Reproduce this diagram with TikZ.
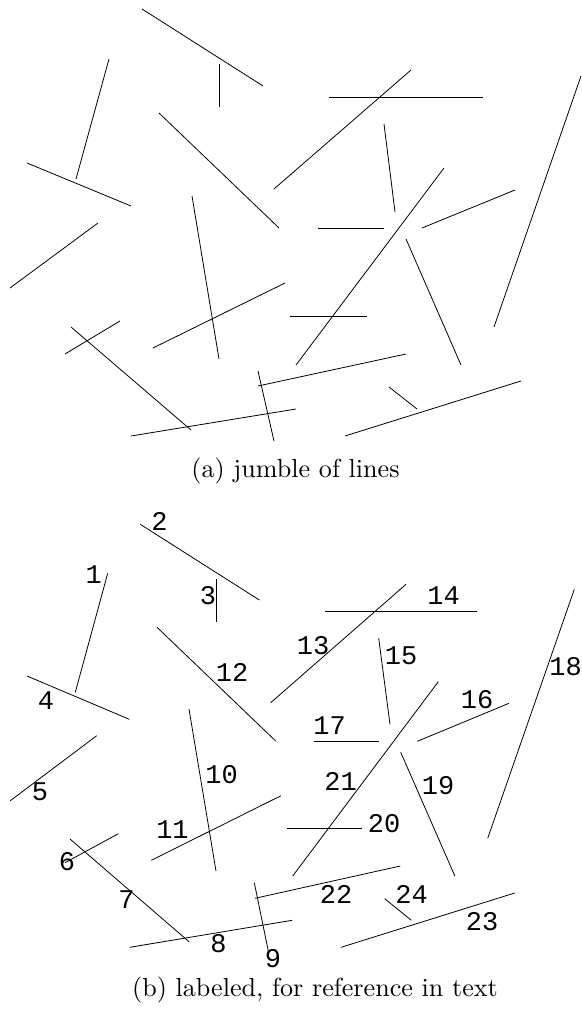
\documentclass[tikz,border=0pt]{standalone}
\usepackage{fontspec}
\newfontfamily\labfont{Liberation Mono}
\tikzset{
  seg/.style={line width=0.8pt},
  lab/.style={font=\labfont\fontsize{27}{30}\selectfont, inner sep=0pt, anchor=center},
  capt/.style={scale=2.61, inner sep=0pt, anchor=base}
}
\begin{document}
\begin{tikzpicture}[x=1pt,y=-1pt]
\useasboundingbox (0,0) rectangle (581,1014);
% ---------- (a) jumble of lines ----------
\draw[seg] (109,59) -- (76,179);
\draw[seg] (142,9) -- (263,86);
\draw[seg] (219,64) -- (219,107);
\draw[seg] (27,163) -- (131,206);
\draw[seg] (98,223) -- (10,288);
\draw[seg] (120,321) -- (65,354);
\draw[seg] (71,327) -- (191,430);
\draw[seg] (131,436) -- (296,409);
\draw[seg] (258,371) -- (274,441);
\draw[seg] (192,196) -- (219,359);
\draw[seg] (285,283) -- (153,348);
\draw[seg] (159,113) -- (279,228);
\draw[seg] (274,189) -- (411,70);
\draw[seg] (329,97) -- (483,97);
\draw[seg] (384,124) -- (395,212);
\draw[seg] (515,190) -- (422,228);
\draw[seg] (318,228) -- (384,228);
\draw[seg] (581,76) -- (494,327);
\draw[seg] (406,239) -- (461,365);
\draw[seg] (290,316) -- (367,316);
\draw[seg] (444,168) -- (296,365);
\draw[seg] (258,386) -- (406,354);
\draw[seg] (345,436) -- (521,381);
\draw[seg] (389,387) -- (417,409);
\node[capt] (capa) at (295.5,477) {(a) jumble of lines};
% ---------- (b) labeled ----------
\draw[seg] (107.7,573.3) -- (75.3,692.3);
\draw[seg] (140.3,524.3) -- (259.3,600);
\draw[seg] (216,579) -- (216,621.7);
\draw[seg] (27,676) -- (129.3,719.3);
\draw[seg] (96.7,735.7) -- (10.3,800.7);
\draw[seg] (118.3,833.7) -- (65,862.7);
\draw[seg] (70,839) -- (189,941.7);
\draw[seg] (129.7,947.3) -- (292,920.3);
\draw[seg] (254.3,882.7) -- (268.5,952);
\draw[seg] (189,709) -- (216,871);
\draw[seg] (281,795.7) -- (151.3,860.3);
\draw[seg] (157,627.3) -- (275.7,741);
\draw[seg] (270.7,702.7) -- (406,584.3);
\draw[seg] (325,611) -- (476.7,611);
\draw[seg] (378.7,638.3) -- (390,724.3);
\draw[seg] (509,703.3) -- (417.3,741.3);
\draw[seg] (314,741) -- (378.7,741);
\draw[seg] (574.3,589.3) -- (487.7,838.3);
\draw[seg] (400.7,752.3) -- (455,876.3);
\draw[seg] (286.7,828) -- (362.3,828);
\draw[seg] (438.3,681.7) -- (292.7,876);
\draw[seg] (255,898.3) -- (400.3,866);
\draw[seg] (341,947.3) -- (514.7,893);
\draw[seg] (384.7,898.7) -- (411.3,920.3);
% labels
\node[lab] (l1) at (93.7,575) {1};
\node[lab] (l2) at (159.5,521) {2};
\node[lab] (l3) at (208,596) {3};
\node[lab] (l4) at (46,700.5) {4};
\node[lab] (l5) at (40,792) {5};
\node[lab] (l6) at (67,862) {6};
\node[lab] (l7) at (126.5,899.5) {7};
\node[lab] (l8) at (218.5,944) {8};
\node[lab] (l9) at (273,959) {9};
\node[lab] (l10) at (221.5,775) {10};
\node[lab] (l11) at (172.5,830) {11};
\node[lab] (l12) at (232,672) {12};
\node[lab] (l13) at (313,645.5) {13};
\node[lab] (l14) at (443.5,595.5) {14};
\node[lab] (l15) at (401,656) {15};
\node[lab] (l16) at (477,700) {16};
\node[lab] (l17) at (329.5,726) {17};
\node[lab] (l18) at (565.5,667) {18};
\node[lab] (l19) at (438,786) {19};
\node[lab] (l20) at (384,824) {20};
\node[lab] (l21) at (340.5,781.5) {21};
\node[lab] (l22) at (336,894.5) {22};
\node[lab] (l23) at (482,922) {23};
\node[lab] (l24) at (411.5,894.5) {24};
\node[capt] (capb) at (315,996) {(b) labeled, for reference in text};
\end{tikzpicture}
\end{document}
